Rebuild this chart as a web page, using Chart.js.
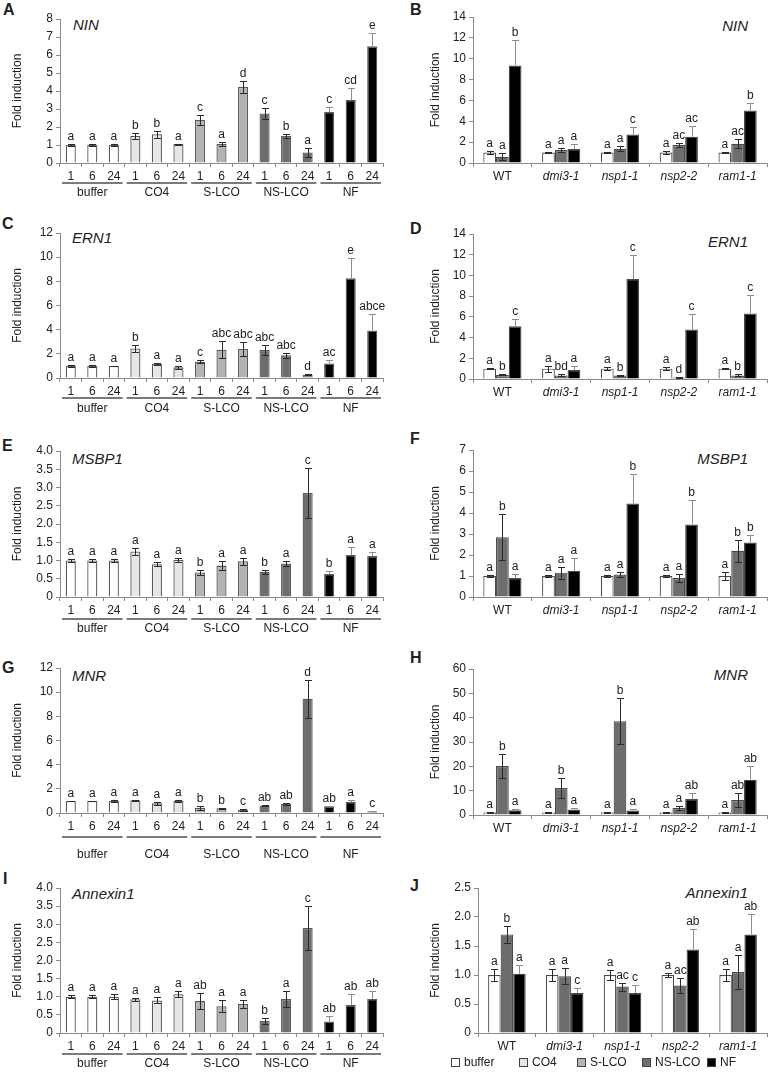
<!DOCTYPE html>
<html><head><meta charset="utf-8">
<script src="https://cdn.jsdelivr.net/npm/chart.js@4.4.1/dist/chart.umd.min.js"></script>
<style>
html,body{margin:0;padding:0;background:#fff;overflow:hidden;}
#page{position:relative;width:769px;height:1078px;font-family:"Liberation Sans",Arial,sans-serif;color:#222;}
canvas{position:absolute;}
.pl{position:absolute;font-weight:bold;font-size:16px;line-height:16px;}
.gn{position:absolute;font-style:italic;font-size:15px;line-height:18px;white-space:nowrap;}
.lb{position:absolute;top:1058px;width:9px;height:9px;border:1px solid #444;box-sizing:border-box;}
.lt{position:absolute;top:1055px;font-size:12px;line-height:14px;white-space:nowrap;}
</style>
</head><body>
<div id="page">
  <div class="pl" style="left:3px;top:2px">A</div>
  <div class="pl" style="left:410px;top:2px">B</div>
  <div class="pl" style="left:2px;top:216px">C</div>
  <div class="pl" style="left:410px;top:221px">D</div>
  <div class="pl" style="left:2px;top:438px">E</div>
  <div class="pl" style="left:410px;top:431px">F</div>
  <div class="pl" style="left:2px;top:660px">G</div>
  <div class="pl" style="left:410px;top:650px">H</div>
  <div class="pl" style="left:3px;top:871px">I</div>
  <div class="pl" style="left:410px;top:878px">J</div>

  <div class="gn" style="left:73px;top:16px">NIN</div>
  <div class="gn" style="right:21px;top:17px">NIN</div>
  <div class="gn" style="left:72px;top:229px">ERN1</div>
  <div class="gn" style="right:21px;top:233px">ERN1</div>
  <div class="gn" style="left:72px;top:450px">MSBP1</div>
  <div class="gn" style="right:21px;top:450px">MSBP1</div>
  <div class="gn" style="left:72px;top:667px">MNR</div>
  <div class="gn" style="right:21px;top:666px">MNR</div>
  <div class="gn" style="left:72px;top:885px">Annexin1</div>
  <div class="gn" style="right:21px;top:884px">Annexin1</div>

  <canvas id="cA"></canvas><canvas id="cB"></canvas>
  <canvas id="cC"></canvas><canvas id="cD"></canvas>
  <canvas id="cE"></canvas><canvas id="cF"></canvas>
  <canvas id="cG"></canvas><canvas id="cH"></canvas>
  <canvas id="cI"></canvas><canvas id="cJ"></canvas>
  <div id="legend"></div>
</div>
<script>
// ---------- categories ----------
const treatments = ['buffer','CO4','S-LCO','NS-LCO','NF'];
const times = ['1','6','24'];
const genotypes = ['WT','dmi3-1','nsp1-1','nsp2-2','ram1-1'];
const treatmentColors = ['#ffffff','#e6e6e6','#b3b3b3','#6d6d6d','#000000'];

// ---------- A: NIN, time course ----------
const A_mean = [1.0,1.0,1.0, 1.5,1.6,1.05, 2.4,1.05,4.22, 2.75,1.5,0.58, 2.83,3.5,6.48];
const A_err  = [0.03,0.03,0.03, 0.17,0.2,0.03, 0.27,0.12,0.33, 0.3,0.12,0.27, 0.26,0.65,0.72];
const A_sig  = ['a','a','a','b','b','a','c','a','d','c','b','a','c','cd','e'];
// ---------- C: ERN1, time course ----------
const C_mean = [1.0,1.0,1.0, 2.45,1.16,0.88, 1.35,2.34,2.4, 2.32,1.88,0.25, 1.21,8.25,3.94];
const C_err  = [0.1,0.06,0.03, 0.3,0.08,0.1, 0.12,0.72,0.6, 0.41,0.2,0.04, 0.25,1.68,1.33];
const C_sig  = ['a','a','a','b','a','a','c','abc','abc','abc','abc','d','ac','e','abce'];
// ---------- E: MSBP1, time course ----------
const E_mean = [1.0,1.0,1.0, 1.25,0.9,1.02, 0.67,0.86,0.98, 0.69,0.92,2.85, 0.63,1.15,1.12];
const E_err  = [0.05,0.05,0.04, 0.1,0.06,0.06, 0.08,0.13,0.1, 0.05,0.08,0.68, 0.08,0.23,0.12];
const E_sig  = ['a','a','a','a','a','a','b','a','a','b','a','c','b','a','a'];
// ---------- G: MNR, time course ----------
const G_mean = [1.0,1.0,1.0, 1.05,0.8,1.0, 0.44,0.4,0.25, 0.6,0.75,9.45, 0.55,0.91,0.15];
const G_err  = [0.03,0.03,0.08, 0.05,0.15,0.06, 0.18,0.03,0.08, 0.06,0.05,1.55, 0.04,0.2,0.04];
const G_sig  = ['a','a','a','a','a','a','b','b','c','ab','ab','d','ab','a','c'];
// ---------- I: Annexin1, time course ----------
const I_mean = [1.0,1.0,1.0, 0.93,0.9,1.07, 0.88,0.74,0.8, 0.33,0.94,2.9, 0.32,0.77,0.94];
const I_err  = [0.04,0.04,0.07, 0.04,0.08,0.08, 0.22,0.17,0.12, 0.08,0.23,0.6, 0.14,0.3,0.22];
const I_sig  = ['a','a','a','a','a','a','ab','a','a','b','a','c','ab','ab','ab'];

// ---------- B: NIN, mutants ----------
const B_buffer = [1.0,1.0,1.0,1.0,1.0],      B_buffer_err = [0.15,0.07,0.06,0.15,0.08];
const B_nslco  = [0.6,1.24,1.37,1.72,1.85],  B_nslco_err  = [0.35,0.2,0.23,0.2,0.44];
const B_nf     = [9.36,1.34,2.74,2.52,5.03], B_nf_err     = [2.4,0.48,0.7,1.05,0.7];
const B_sig_buffer = ['a','a','a','a','a'], B_sig_nslco = ['a','a','a','ac','ac'], B_sig_nf = ['b','a','c','ac','b'];
// ---------- D: ERN1, mutants ----------
const D_buffer = [1,1,1,1,1],                D_buffer_err = [0.06,0.28,0.17,0.17,0.07];
const D_nslco  = [0.39,0.35,0.35,0.15,0.35], D_nslco_err  = [0.05,0.1,0.08,0.03,0.1];
const D_nf     = [5.1,0.87,9.65,4.77,6.32],  D_nf_err     = [0.68,0.4,2.32,1.55,1.8];
const D_sig_buffer = ['a','a','a','a','a'], D_sig_nslco = ['b','bd','b','d','b'], D_sig_nf = ['c','a','c','c','c'];
// ---------- F: MSBP1, mutants ----------
const F_buffer = [1,1,1,1,1],                F_buffer_err = [0.07,0.04,0.04,0.06,0.17];
const F_nslco  = [2.85,1.16,1.07,0.9,2.2],   F_nslco_err  = [1.1,0.28,0.12,0.2,0.52];
const F_nf     = [0.9,1.25,4.45,3.45,2.6],   F_nf_err     = [0.19,0.6,1.4,1.15,0.33];
const F_sig_buffer = ['a','a','a','a','a'], F_sig_nslco = ['b','a','a','a','b'], F_sig_nf = ['a','a','b','b','b'];
// ---------- H: MNR, mutants ----------
const H_buffer = [1,1,1,1,1],                H_buffer_err = [0.1,0.15,0.2,0.1,0.3];
const H_nslco  = [20.1,11.07,38.5,2.87,6.15],H_nslco_err  = [5.0,4.1,9.4,0.95,2.85];
const H_nf     = [2.0,2.3,1.9,6.56,14.5],    H_nf_err     = [0.5,0.5,0.7,2.45,5.7];
const H_sig_buffer = ['a','a','a','a','a'], H_sig_nslco = ['b','b','b','a','ab'], H_sig_nf = ['a','a','a','ab','ab'];
// ---------- J: Annexin1, mutants ----------
const J_buffer = [1,1,1,1,1],                J_buffer_err = [0.1,0.1,0.08,0.04,0.1];
const J_nslco  = [1.7,0.98,0.8,0.82,1.05],   J_nslco_err  = [0.14,0.14,0.07,0.13,0.29];
const J_nf     = [1.02,0.69,0.69,1.44,1.7],  J_nf_err     = [0.16,0.08,0.13,0.36,0.35];
const J_sig_buffer = ['a','a','a','a','a'], J_sig_nslco = ['b','a','ac','ac','a'], J_sig_nf = ['a','c','c','ab','ab'];

// ---------- rendering ----------
const FONT = '"Liberation Sans", Arial, sans-serif';
Chart.defaults.font.family = FONT;
Chart.defaults.font.size = 12;
Chart.defaults.color = '#222';

const errPlugin = {
  id: 'errbars',
  afterDatasetsDraw(chart) {
    const ctx = chart.ctx, ys = chart.scales.y;
    chart.data.datasets.forEach((ds, di) => {
      const meta = chart.getDatasetMeta(di);
      meta.data.forEach((bar, i) => {
        const v = ds.data[i], e = ds.errors[i];
        const x = Math.round(bar.x) + 0.5;
        const yt = Math.round(ys.getPixelForValue(v + e)) + 0.5;
        const yb = Math.round(ys.getPixelForValue(Math.max(v - e, 0))) + 0.5;
        const fill = Array.isArray(ds.backgroundColor) ? ds.backgroundColor[i] : ds.backgroundColor;
        const dark = fill === '#000000';
        ctx.save();
        ctx.strokeStyle = dark ? '#8c8c8c' : '#2a2a2a';
        ctx.lineWidth = 1;
        ctx.beginPath();
        ctx.moveTo(x, yt); ctx.lineTo(x, dark ? bar.y : yb);
        ctx.moveTo(x - 3.5, yt); ctx.lineTo(x + 3.5, yt);
        if (!dark) { ctx.moveTo(x - 3.5, yb); ctx.lineTo(x + 3.5, yb); }
        ctx.stroke();
        ctx.fillStyle = '#222';
        ctx.font = '12px ' + FONT;
        ctx.textAlign = 'center';
        ctx.textBaseline = 'alphabetic';
        ctx.fillText(ds.sig[i], bar.x, yt - 5);
        ctx.restore();
      });
    });
  }
};

const groupPlugin = {
  id: 'groups',
  afterDraw(chart, args, opts) {
    if (!opts || !opts.labels) return;
    const ctx = chart.ctx, xs = chart.scales.x;
    const y0 = chart.chartArea.bottom;
    const step = xs.getPixelForValue(1) - xs.getPixelForValue(0);
    ctx.save();
    opts.labels.forEach((lab, g) => {
      const x1 = xs.getPixelForValue(3 * g) - step / 2 + 2;
      const x2 = xs.getPixelForValue(3 * g + 2) + step / 2 - 2;
      ctx.strokeStyle = '#7a7a7a';
      ctx.lineWidth = 2;
      ctx.beginPath();
      ctx.moveTo(x1, y0 + opts.line); ctx.lineTo(x2, y0 + opts.line);
      ctx.stroke();
      ctx.fillStyle = '#222';
      ctx.font = '12px ' + FONT;
      ctx.textAlign = 'center';
      ctx.textBaseline = 'middle';
      ctx.fillText(lab, (x1 + x2) / 2, y0 + opts.text);
    });
    ctx.restore();
  }
};

const fmtInt = v => String(v);
const fmtDec = v => (v === 0 ? '0' : v.toFixed(1));

function place(id, left, width, yTop, y0, xH, padLeft, yW) {
  const c = document.getElementById(id);
  const top = yTop - 12;
  const h = 12 + (y0 - yTop) + xH;
  c.width = width; c.height = h;
  c.style.left = left + 'px'; c.style.top = top + 'px';
  c.style.width = width + 'px'; c.style.height = h + 'px';
  return { c, pad: { top: 12, left: padLeft, right: 2, bottom: 0 }, xH, yW };
}

function axes(p, yMax, yStep, fmt, catFont) {
  return {
    x: {
      offset: true,
      grid: { offset: true, drawOnChartArea: false, tickLength: 4, color: '#8a8a8a' },
      border: { color: '#8a8a8a', width: 1 },
      ticks: { padding: 2, maxRotation: 0, autoSkip: false, color: '#222', font: catFont || { size: 12 } },
      afterFit(s) { s.height = p.xH; }
    },
    y: {
      min: 0, max: yMax,
      grid: { drawOnChartArea: false, tickLength: 4, color: '#8a8a8a' },
      border: { color: '#8a8a8a', width: 1 },
      ticks: { stepSize: yStep, padding: 3, color: '#222', callback: fmt, font: { size: 12 } },
      title: { display: true, text: 'Fold induction', color: '#222', font: { size: 12 }, padding: { top: 4, bottom: 4 } },
      afterFit(s) { s.width = p.yW; }
    }
  };
}

const timeLabels = treatments.flatMap(() => times);
const barColors = treatments.flatMap((t, i) => times.map(() => treatmentColors[i]));

function timeChart(p, mean, err, sig, yMax, yStep, fmt, line, text) {
  return new Chart(p.c, {
    type: 'bar',
    data: {
      labels: timeLabels,
      datasets: [{
        data: mean, errors: err, sig: sig,
        backgroundColor: barColors, borderColor: '#5a5a5a', borderWidth: 1.3,
        barPercentage: 0.47, categoryPercentage: 1.0
      }]
    },
    options: {
      responsive: false, animation: false, devicePixelRatio: 1,
      layout: { padding: p.pad },
      plugins: { legend: { display: false }, tooltip: { enabled: false },
                 groups: { labels: treatments, line: line, text: text } },
      scales: axes(p, yMax, yStep, fmt)
    },
    plugins: [errPlugin, groupPlugin]
  });
}

function mutantChart(p, sets, yMax, yStep, fmt) {
  const names = ['buffer', 'NS-LCO', 'NF'];
  const cols = [treatmentColors[0], treatmentColors[3], treatmentColors[4]];
  return new Chart(p.c, {
    type: 'bar',
    data: {
      labels: genotypes,
      datasets: sets.map((s, i) => ({
        label: names[i], data: s[0], errors: s[1], sig: s[2],
        backgroundColor: cols[i], borderColor: '#4a4a4a', borderWidth: 1.2,
        barPercentage: 1.0, categoryPercentage: 0.65
      }))
    },
    options: {
      responsive: false, animation: false, devicePixelRatio: 1,
      layout: { padding: p.pad },
      plugins: { legend: { display: false }, tooltip: { enabled: false } },
      scales: axes(p, yMax, yStep, fmt, (ctx) => ({ size: 12, style: ctx.index === 0 ? 'normal' : 'italic' }))
    },
    plugins: [errPlugin]
  });
}

timeChart(place('cA', 0, 385, 19, 163, 50, 6, 54), A_mean, A_err, A_sig, 8, 1, fmtInt, 20, 30);
timeChart(place('cC', 0, 385, 233, 378, 50, 6, 54), C_mean, C_err, C_sig, 12, 2, fmtInt, 20, 31);
timeChart(place('cE', 0, 385, 451, 597, 50, 6, 54), E_mean, E_err, E_sig, 4, 0.5, fmtDec, 22, 32);
timeChart(place('cG', 0, 385, 668, 813, 50, 6, 54), G_mean, G_err, G_sig, 12, 2, fmtInt, 24, 42);
timeChart(place('cI', 0, 385, 888, 1033, 44, 6, 54), I_mean, I_err, I_sig, 4, 0.5, fmtDec, 21, 31);

mutantChart(place('cB', 385, 384, 17, 163, 30, 39, 49),
  [[B_buffer, B_buffer_err, B_sig_buffer], [B_nslco, B_nslco_err, B_sig_nslco], [B_nf, B_nf_err, B_sig_nf]], 14, 2, fmtInt);
mutantChart(place('cD', 385, 384, 234, 379, 30, 39, 49),
  [[D_buffer, D_buffer_err, D_sig_buffer], [D_nslco, D_nslco_err, D_sig_nslco], [D_nf, D_nf_err, D_sig_nf]], 14, 2, fmtInt);
mutantChart(place('cF', 385, 384, 450, 597, 30, 39, 49),
  [[F_buffer, F_buffer_err, F_sig_buffer], [F_nslco, F_nslco_err, F_sig_nslco], [F_nf, F_nf_err, F_sig_nf]], 7, 1, fmtInt);
mutantChart(place('cH', 385, 384, 669, 815, 30, 39, 49),
  [[H_buffer, H_buffer_err, H_sig_buffer], [H_nslco, H_nslco_err, H_sig_nslco], [H_nf, H_nf_err, H_sig_nf]], 60, 10, fmtInt);
mutantChart(place('cJ', 385, 384, 888, 1033, 30, 39, 54),
  [[J_buffer, J_buffer_err, J_sig_buffer], [J_nslco, J_nslco_err, J_sig_nslco], [J_nf, J_nf_err, J_sig_nf]], 2.5, 0.5, fmtDec);

// legend
const legendBoxX = [451, 519, 577, 642, 707];
const lg = document.getElementById('legend');
treatments.forEach((t, i) => {
  const b = document.createElement('div');
  b.className = 'lb'; b.style.left = legendBoxX[i] + 'px'; b.style.background = treatmentColors[i];
  const s = document.createElement('div');
  s.className = 'lt'; s.style.left = (legendBoxX[i] + 13) + 'px'; s.textContent = t;
  lg.appendChild(b); lg.appendChild(s);
});
</script>
</body></html>
